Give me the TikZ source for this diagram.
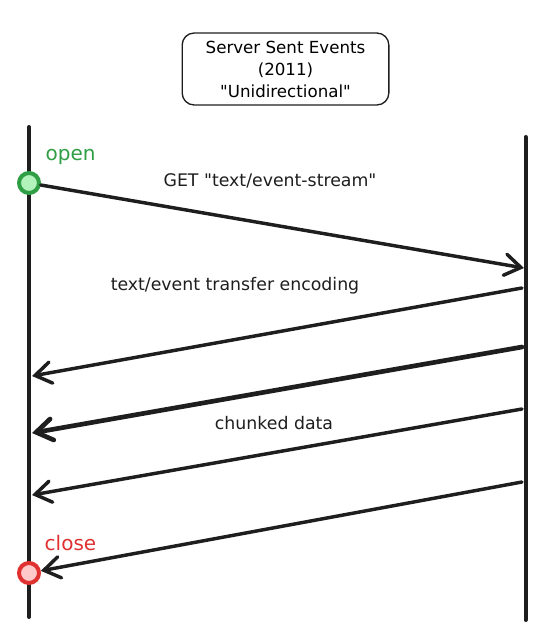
\documentclass[tikz,border=0pt]{standalone}
\usepackage{fontspec}
\newfontfamily\handfont{DejaVu Sans}
\usetikzlibrary{arrows.meta}
\definecolor{ink}{HTML}{1E1E1E}
\definecolor{opengreen}{HTML}{2F9E44}
\definecolor{opengreenfill}{HTML}{B2F2BB}
\definecolor{closered}{HTML}{E03131}
\definecolor{closeredfill}{HTML}{FFC9C9}
\tikzset{
  lifeline/.style={ink,line width=3pt,line cap=round},
  msg/.style={ink,line width=2.6pt,line cap=round,-{Straight Barb[length=12pt,width=16pt,line cap=round]}},
  msglabel/.style={ink,font=\handfont\fontsize{13}{15}\selectfont},
  endpoint/.style={circle,minimum size=15pt,inner sep=0pt,line width=3pt},
  titlebox/.style={draw=ink,line width=1pt,rounded corners=9pt,minimum width=155pt,minimum height=54pt,align=center,font=\handfont\fontsize{12.5}{16.5}\selectfont}
}
\begin{document}
\begin{tikzpicture}[x=0.75pt,y=-0.75pt]
\useasboundingbox (0,0) rectangle (549,634);
\node[titlebox] (title) at (285.5,69) {Server Sent Events\\(2011)\\"Unidirectional"};
\coordinate (ltop) at (29,127); \coordinate (lbot) at (29,617);
\coordinate (rtop) at (525.5,137); \coordinate (rbot) at (525.5,620);
\draw[lifeline] (ltop) -- (lbot);
\draw[lifeline] (rtop) -- (rbot);
\node[endpoint,draw=opengreen,fill=opengreenfill] (open) at (29,183) {};
\node[endpoint,draw=closered,fill=closeredfill] (close) at (29,573) {};
\node[right,opengreen,font=\handfont\fontsize{15}{18}\selectfont] (openlabel) at (41,157) {open};
\node[right,closered,font=\handfont\fontsize{15}{18}\selectfont] (closelabel) at (40,543) {close};
\coordinate (r1) at (524,268);
\draw[msg] (open) -- (r1);
\foreach \i/\a/\b/\w in {2/288/376/2.6,3/347/433/3.5,4/409/495/2.6} {\coordinate (s\i) at (522,\a); \coordinate (c\i) at (32,\b); \draw[msg,line width=\w pt] (s\i) -- (c\i);}
\coordinate (s5) at (522,482);
\draw[msg] (s5) -- (close);
\node[msglabel] (getlabel) at (270,181) {GET "text/event-stream"};
\node[msglabel] (enclabel) at (235,286) {text/event transfer encoding};
\node[msglabel] (datalabel) at (274,423) {chunked data};
\end{tikzpicture}
\end{document}
